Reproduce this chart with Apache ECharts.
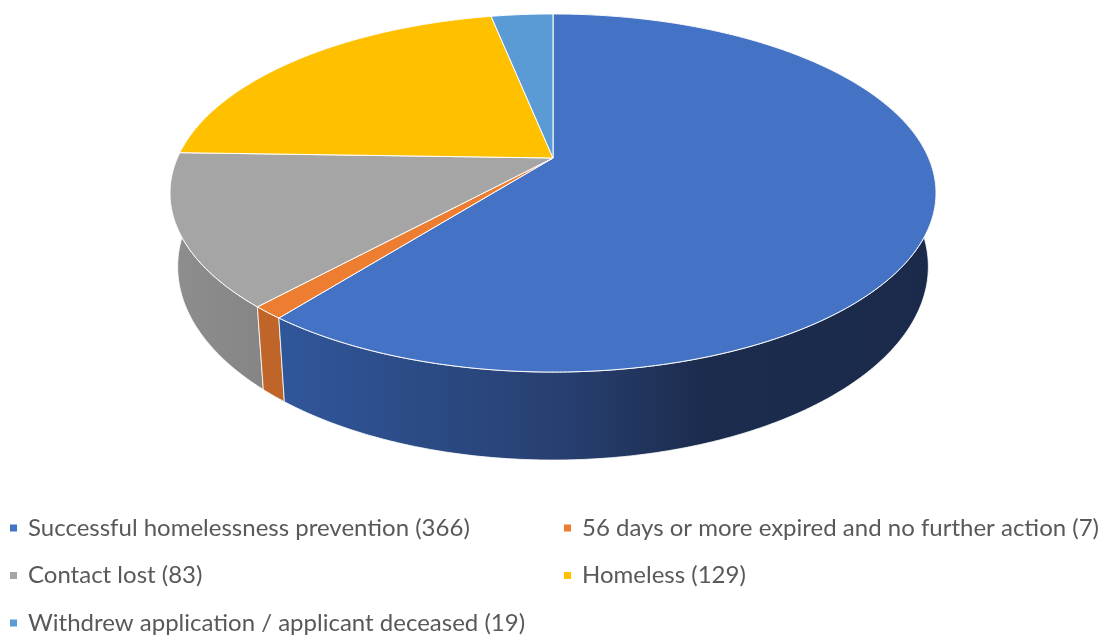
<!DOCTYPE html>
<html>
<head>
<meta charset="utf-8">
<script src="https://cdn.jsdelivr.net/npm/echarts@6/dist/echarts.min.js"></script>
<style>
html,body{margin:0;padding:0;background:#fff;}
#chart{width:1116px;height:637px;}
</style>
</head>
<body>
<div id="chart"></div>
<script>
// ---- data ----
const categories = [
  'Successful homelessness prevention',
  '56 days or more expired and no further action',
  'Contact lost',
  'Homeless',
  'Withdrew application / applicant deceased'
];
const values = [366, 7, 83, 129, 19];
const colors = ['#4472C4', '#ED7D31', '#A5A5A5', '#FFC000', '#5B9BD5'];
const labels = categories.map((c, i) => c + ' (' + values[i] + ')');

// ---- 3D pie geometry (layout) ----
const CX = 553, CY = 158, A = 375.6, B = 172.2, P = -0.1955, T = 70.8, KX = 0.98;
const total = values.reduce((s, v) => s + v, 0);
const cum = [0];
values.forEach(v => cum.push(cum[cum.length - 1] + v));

function rimTop(deg) {
  const r = deg * Math.PI / 180;
  const u = Math.sin(r), v = -Math.cos(r);
  const w = 1 + P * v;
  return [CX + A * u / w, CY + B * v / w, w];
}
function rimBottom(deg) {
  const t = rimTop(deg);
  return [CX + (t[0] - CX) * KX, t[1] + T / t[2]];
}
function arcDegs(a0, a1) {
  const n = Math.max(2, Math.ceil((a1 - a0) / 0.5));
  const out = [];
  for (let k = 0; k <= n; k++) out.push(a0 + (a1 - a0) * k / n);
  return out;
}
function grad(stops) {
  const x0 = 170, x1 = 935;
  return {
    type: 'linear', x: x0, y: 0, x2: x1, y2: 0, global: true,
    colorStops: stops.map(s => ({ offset: (s[0] - x0) / (x1 - x0), color: s[1] }))
  };
}
const wallFills = [
  grad([[170, '#33599F'], [285, '#30569A'], [570, '#273F6F'], [700, '#1C2C4E'], [935, '#1B2A4A']]),
  grad([[170, '#C0652A'], [935, '#C0652A']]),
  grad([[170, '#8E8E8E'], [265, '#858585'], [935, '#7A7A7A']]),
  grad([[170, '#C79600'], [935, '#C79600']]),
  grad([[170, '#4878A6'], [935, '#4878A6']])
];

function sliceAngles(i, v) {
  const a0 = cum[i] / total * 360;
  return [a0, a0 + v / total * 360];
}

const series = [];
// walls
series.push({
  type: 'custom',
  name: 'walls',
  coordinateSystem: 'none',
  silent: true,
  z: 1,
  data: values.map(v => [v]),
  renderItem: function (params, api) {
    const i = params.dataIndex;
    const ang = sliceAngles(i, api.value(0));
    const degs = arcDegs(ang[0], ang[1]);
    const pts = degs.map(d => rimTop(d).slice(0, 2));
    for (let k = degs.length - 1; k >= 0; k--) pts.push(rimBottom(degs[k]));
    return {
      type: 'polygon',
      z2: 5 - i,
      shape: { points: pts },
      style: { fill: wallFills[i], stroke: '#ffffff', lineWidth: 0.8 }
    };
  }
});
// top faces, one series per slice (for the legend)
values.forEach((val, i) => {
  series.push({
    type: 'custom',
    name: labels[i],
    coordinateSystem: 'none',
    silent: true,
    z: 3,
    itemStyle: { color: colors[i] },
    data: [[val]],
    renderItem: function (params, api) {
      const ang = sliceAngles(i, api.value(0));
      const pts = [[CX, CY]];
      arcDegs(ang[0], ang[1]).forEach(d => pts.push(rimTop(d).slice(0, 2)));
      return {
        type: 'polygon',
        shape: { points: pts },
        style: { fill: colors[i], stroke: '#ffffff', lineWidth: 1 }
      };
    }
  });
});

const legendCommon = {
  orient: 'vertical',
  icon: 'rect',
  itemWidth: 7,
  itemHeight: 7,
  itemGap: 21.5,
  padding: 0,
  selectedMode: false,
  textStyle: { fontFamily: 'Lato', fontSize: 24, color: '#595959', lineHeight: 26, padding: [0, 0, 0, 6] }
};

const option = {
  backgroundColor: '#ffffff',
  animation: false,
  legend: [
    Object.assign({}, legendCommon, {
      left: 10, top: 515,
      data: [0, 2, 4].map(i => ({ name: labels[i], itemStyle: { color: colors[i] } }))
    }),
    Object.assign({}, legendCommon, {
      left: 564, top: 515,
      data: [1, 3].map(i => ({ name: labels[i], itemStyle: { color: colors[i] } }))
    })
  ],
  series: series
};

const chart = echarts.init(document.getElementById('chart'), null, { renderer: 'canvas' });
chart.setOption(option);
</script>
</body>
</html>
